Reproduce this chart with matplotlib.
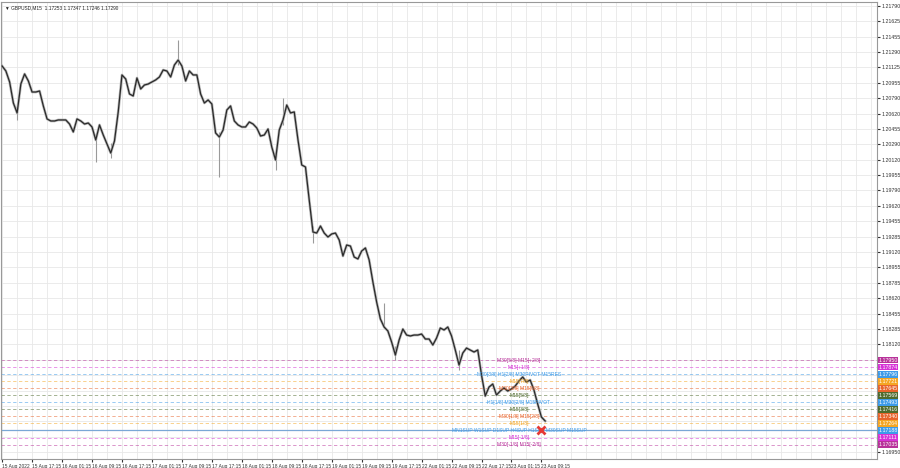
import matplotlib
matplotlib.use("Agg")
import matplotlib.pyplot as plt

# Arial-like metrics so the small MT4 style labels fit
plt.rcParams['font.family'] = ['Liberation Sans', 'DejaVu Sans']

# GBPUSD M15, hourly closes (15 Aug 09:15 -> 23 Aug 10:15)
closes = [
    1.21139, 1.21085, 1.20966, 1.20738, 1.20630, 1.20944, 1.21053, 1.20977, 1.20857, 1.20857,
    1.20868, 1.20706, 1.20565, 1.20543, 1.20543, 1.20554, 1.20554, 1.20554, 1.20510, 1.20424,
    1.20565, 1.20543, 1.20510, 1.20521, 1.20478, 1.20337, 1.20500, 1.20391, 1.20294, 1.20196,
    1.20326, 1.20641, 1.21042, 1.20998, 1.20836, 1.20814, 1.21009, 1.20890, 1.20933, 1.20944,
    1.20966, 1.20988, 1.21020, 1.21096, 1.21085, 1.21020, 1.21150, 1.21204, 1.21139, 1.20977,
    1.21085, 1.21042, 1.21042, 1.20836, 1.20738, 1.20771, 1.20727, 1.20413, 1.20369, 1.20445,
    1.20662, 1.20706, 1.20543, 1.20500, 1.20478, 1.20478, 1.20532, 1.20510, 1.20467, 1.20380,
    1.20391, 1.20456, 1.20261, 1.20120, 1.20445, 1.20554, 1.20716, 1.20630, 1.20641, 1.20337,
    1.20066, 1.20044, 1.19686, 1.19339, 1.19328, 1.19404, 1.19328, 1.19285, 1.19318, 1.19328,
    1.19253, 1.19079, 1.19198, 1.19187, 1.19068, 1.19047, 1.19133, 1.19166, 1.19036, 1.18797,
    1.18580, 1.18396, 1.18309, 1.18266, 1.18146, 1.18005, 1.18168, 1.18287, 1.18222, 1.18212,
    1.18222, 1.18222, 1.18233, 1.18179, 1.18179, 1.18114, 1.18190, 1.18298, 1.18277, 1.18309,
    1.18212, 1.18060, 1.17897, 1.18027, 1.18081, 1.18060, 1.18038, 1.18060, 1.17789, 1.17561,
    1.17658, 1.17691, 1.17572, 1.17615, 1.17648, 1.17615, 1.17637, 1.17669, 1.17724, 1.17767,
    1.17713, 1.17734, 1.17626, 1.17474, 1.17333, 1.17290,
]

# long wicks that stick out of the price line
wick_hours = [4, 25, 29, 47, 58, 73, 75, 83, 102, 105, 122]
wick_highs = [1.20740, 1.20400, 1.20300, 1.21421, 1.20420, 1.20250, 1.20792, 1.19400, 1.18569, 1.18100, 1.18060]
wick_lows = [1.20554, 1.20098, 1.20142, 1.21150, 1.19935, 1.20012, 1.20500, 1.19220, 1.18300, 1.17952, 1.17843]

time_labels = ["15 Aug 2022", "15 Aug 17:15", "16 Aug 01:15", "16 Aug 09:15", "16 Aug 17:15",
               "17 Aug 01:15", "17 Aug 09:15", "17 Aug 17:15", "18 Aug 01:15", "18 Aug 09:15",
               "18 Aug 17:15", "19 Aug 01:15", "19 Aug 09:15", "19 Aug 17:15", "22 Aug 01:15",
               "22 Aug 09:15", "22 Aug 17:15", "23 Aug 01:15", "23 Aug 09:15"]

price_ticks = [1.21790, 1.21625, 1.21455, 1.21290, 1.21125, 1.20955, 1.20790, 1.20620, 1.20455,
               1.20290, 1.20120, 1.19955, 1.19790, 1.19620, 1.19455, 1.19285, 1.19120, 1.18955,
               1.18785, 1.18620, 1.18455, 1.18285, 1.18120, 1.17950, 1.17785, 1.17620, 1.17450,
               1.17285, 1.17120, 1.16950]

# murrey / pivot levels (top to bottom)
level_prices = [1.17950, 1.17874, 1.17796, 1.17721, 1.17645, 1.17569, 1.17493,
                1.17416, 1.17340, 1.17264, 1.17188, 1.17111, 1.17035]
level_names = ["M30[5/8] M15[+2/8]", "M15[+1/8]", "M30[3/8] H1[2/8] M30PIVOT M15RES", "M15[7/8]",
               "M30[3/8] M15[6/8]", "M15[5/8]", "H1[1/8] M30[2/8] M15PIVOT", "M15[3/8]",
               "M30[1/8] M15[2/8]", "M15[1/8]",
               "MN1SUP W1SUP D1SUP H4SUP H1SUP M30SUP M15SUP", "M15[-1/8]", "M30[-1/8] M15[-2/8]"]
level_colors = ["#b8329a", "#d633d6", "#3d9be9", "#f5a623", "#e8642c", "#4f6b2d", "#3d9be9",
                "#4f6b2d", "#e8642c", "#f5a623", "#3d9be9", "#d633d6", "#b8329a"]

fig = plt.figure(figsize=(9, 4.68), dpi=100)
ax = fig.add_axes([1 / 900, 9 / 468, 876 / 900, 457 / 468])

hours = list(range(len(closes)))
ax.set_xlim(-0.3, 233.6)
ax.set_ylim(1.16878, 1.21833)

# grid every 4 hours and at every price label
for h in range(0, 236, 4):
    ax.axvline(h, color="#e8e8e8", lw=0.6, zorder=0)
for p in price_ticks:
    ax.axhline(p, color="#e8e8e8", lw=0.6, zorder=0)

# level lines
for p, c, name in zip(level_prices, level_colors, level_names):
    if "SUP" in name:
        ax.axhline(p, color="#7aa7d6", lw=0.9, zorder=1)
    else:
        ax.axhline(p, color=c, lw=0.6, ls=(0, (4, 3)), alpha=0.6, zorder=1)

# price (candles drawn as a thick line with grey wicks)
ax.vlines(wick_hours, wick_lows, wick_highs, color="#9a9a9a", lw=0.8, zorder=2)
ax.plot(hours, closes, color="#b5b5b5", lw=1.9, zorder=2)
ax.plot(hours, closes, color="#2a2a2a", lw=0.9, zorder=3)

# level captions
for p, c, name in zip(level_prices, level_colors, level_names):
    ax.text(138, p, name, color=c, fontsize=3.6, ha="center", va="center", zorder=4)

# red cross on the support line
ax.plot([144], [level_prices[10]], marker="x", color="#e53935", ms=6, mew=2, zorder=5)

# price boxes on the right scale
for p, c in zip(level_prices, level_colors):
    ax.text(1.0015, p, f"{p:.5f}", transform=ax.get_yaxis_transform(), fontsize=3.8,
            color="white", va="center", ha="left", clip_on=False,
            bbox=dict(boxstyle="square,pad=0.15", fc=c, ec="none"))

ax.yaxis.tick_right()
ax.set_yticks(price_ticks)
ax.set_yticklabels(["" if 1.1710 < p < 1.1797 else f"{p:.5f}" for p in price_ticks])
ax.tick_params(axis="y", labelsize=3.8, length=2, pad=1.5, colors="#333333")

ax.set_xticks([8 * i for i in range(len(time_labels))])
ax.set_xticklabels(time_labels, ha="left")
ax.tick_params(axis="x", labelsize=3.5, length=2, pad=1.5, colors="#333333")

for s in ax.spines.values():
    s.set_color("#999999")
    s.set_linewidth(0.8)

ax.text(0.004, 0.993, "\u25bc GBPUSD,M15  1.17253 1.17347 1.17246 1.17290", transform=ax.transAxes,
        fontsize=3.4, color="#222222", va="top", ha="left")

fig.savefig("out.png", dpi=100, facecolor="white")
